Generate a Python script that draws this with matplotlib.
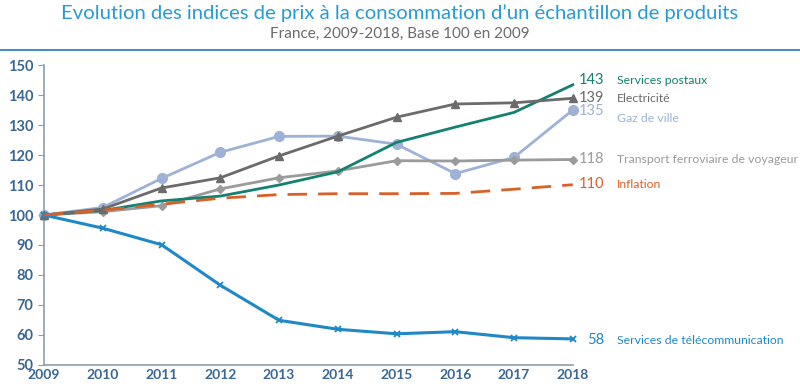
import matplotlib.pyplot as plt

# données (indice base 100 en 2009)
annees = [2009, 2010, 2011, 2012, 2013, 2014, 2015, 2016, 2017, 2018]
postaux = [100, 101.5, 104.7, 106.3, 110, 114.4, 124.2, 129.3, 134.2, 143.4]
electricite = [100, 102, 109, 112.4, 119.7, 126.3, 132.6, 137, 137.4, 138.9]
gaz = [100, 102.5, 112.2, 120.9, 126.2, 126.3, 123.6, 113.8, 119.2, 135]
transport = [100, 101.1, 103.1, 108.7, 112.4, 114.7, 118.1, 118, 118.3, 118.5]
inflation = [100, 101.6, 103.6, 105.6, 106.8, 107.1, 107.1, 107.2, 108.6, 110.1]
telecom = [100, 95.6, 90.1, 76.6, 64.9, 61.9, 60.4, 61.1, 59.1, 58.7]

etiquettes = ["Services postaux", "Electricité", "Gaz de ville",
              "Transport ferroviaire de voyageur", "Inflation",
              "Services de télécommunication"]
valeurs_fin = ["143", "139", "135", "118", "110", "58"]
y_nombre = [145, 139, 134.6, 118.6, 110.3, 58.3]
y_texte = [145, 139, 132.2, 118.6, 110.3, 58.3]

c_postaux = "#14806f"
c_elec = "#6b6b6b"
c_gaz = "#9db2d6"
c_transport = "#9b9b9b"
c_infl = "#d8612a"
c_telecom = "#1f88c6"
couleurs = [c_postaux, c_elec, c_gaz, c_transport, c_infl, c_telecom]

plt.rcParams['font.family'] = ['Lato', 'DejaVu Sans']

fig = plt.figure(figsize=(8, 3.84), dpi=100)
ax = fig.add_axes([0.055, 0.0495, 0.661, 0.7812])

ax.plot(annees, postaux, color=c_postaux, lw=2, clip_on=False, zorder=3)
ax.plot(annees, electricite, color=c_elec, lw=2, marker="^", ms=6, clip_on=False, zorder=3)
ax.plot(annees, gaz, color=c_gaz, lw=2, marker="o", ms=7, clip_on=False, zorder=2)
ax.plot(annees, transport, color=c_transport, lw=2, marker="D", ms=4, clip_on=False, zorder=2)
ax.plot(annees, inflation, color=c_infl, lw=2, ls=(0, (7, 4)), clip_on=False, zorder=4)
ax.plot(annees, telecom, color=c_telecom, lw=2.2, marker="x", ms=5, mew=1.3, clip_on=False, zorder=3)

ax.set_xlim(2009, 2018)
ax.set_ylim(50, 150)
ax.set_xticks(annees)
ax.set_yticks(range(50, 151, 10))

for s in ["top", "right"]:
    ax.spines[s].set_visible(False)
for s in ["left", "bottom"]:
    ax.spines[s].set_color("#8d9db0")
    ax.spines[s].set_linewidth(1.2)
ax.tick_params(axis="y", colors="#8d9db0", length=4, labelsize=10.5, labelcolor="#3a6793")
ax.tick_params(axis="x", length=0, pad=3, labelsize=10, labelcolor="#3a6793")
for t in ax.get_xticklabels() + ax.get_yticklabels():
    t.set_fontweight("bold")

# valeurs finales et libellés à droite
for i in range(len(etiquettes)):
    yn = ax.transData.transform((2018, y_nombre[i]))[1] / 384
    yt = ax.transData.transform((2018, y_texte[i]))[1] / 384
    fig.text(604 / 800, yn, valeurs_fin[i], ha="right", va="center",
             color=couleurs[i], fontsize=10.5)
    fig.text(617 / 800, yt, etiquettes[i], ha="left", va="center",
             color=couleurs[i], fontsize=8.8)

fig.text(0.5, 0.965, "Evolution des indices de prix à la consommation d’un échantillon de produits",
         ha="center", va="center", color="#2a9ad3", fontsize=14.6)
fig.text(0.5, 0.912, "France, 2009-2018, Base 100 en 2009",
         ha="center", va="center", color="#6a6a6a", fontsize=11)
fig.add_artist(plt.Line2D([0, 1], [0.87, 0.87], color="#4d8dbd", lw=1.5))

fig.savefig("out.png", dpi=100)
